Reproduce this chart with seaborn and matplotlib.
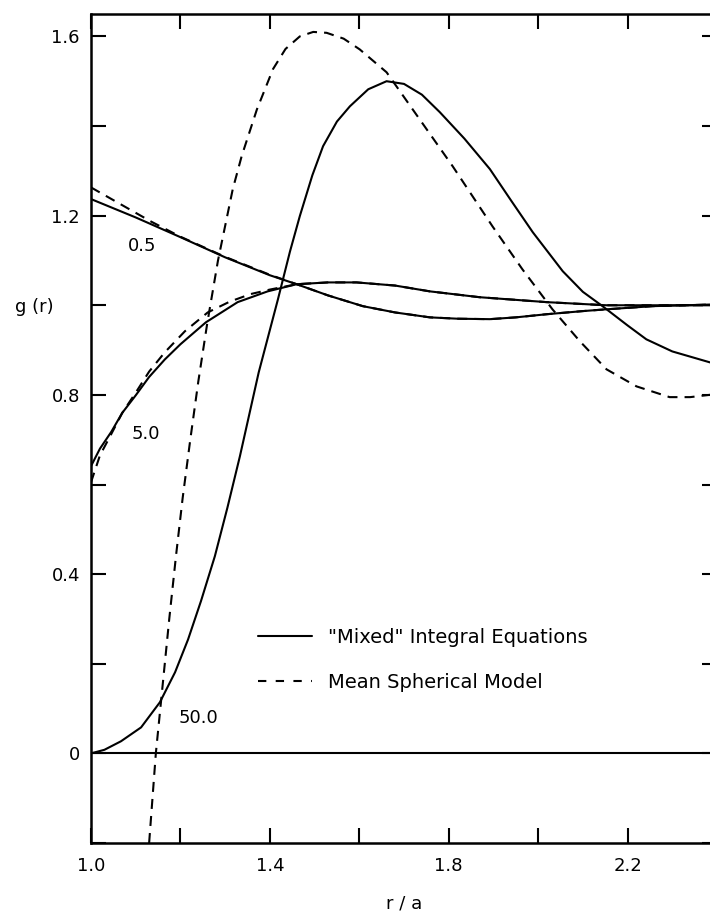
import numpy as np
import pandas as pd
import matplotlib
matplotlib.use("Agg")
import matplotlib.pyplot as plt
from matplotlib.lines import Line2D
from matplotlib.ticker import FixedLocator, FuncFormatter
import seaborn as sns

# values: r/a and g(r) for each curve
r_mixed_05 = [1.00, 1.10, 1.20, 1.30, 1.40, 1.46, 1.53, 1.608, 1.68, 1.758, 1.82, 1.892,
              1.95, 2.019, 2.10, 2.153, 2.256, 2.40]
g_mixed_05 = [1.237, 1.196, 1.152, 1.107, 1.067, 1.047, 1.022, 0.998, 0.984, 0.973, 0.970, 0.969,
              0.973, 0.980, 0.987, 0.991, 0.998, 1.002]

r_mixed_5 = [1.00, 1.02, 1.045, 1.07, 1.10, 1.13, 1.165, 1.20, 1.257, 1.328, 1.395, 1.46,
             1.53, 1.594, 1.68, 1.758, 1.869, 2.019, 2.153, 2.40]
g_mixed_5 = [0.641, 0.680, 0.717, 0.760, 0.799, 0.840, 0.879, 0.913, 0.962, 1.007, 1.031, 1.047,
             1.051, 1.051, 1.044, 1.031, 1.018, 1.007, 1.000, 1.000]

r_mixed_50 = [1.00, 1.03, 1.067, 1.112, 1.154, 1.188, 1.217, 1.246, 1.277, 1.305, 1.333, 1.375,
              1.418, 1.445, 1.467, 1.495, 1.519, 1.55, 1.579, 1.62, 1.661, 1.70, 1.74, 1.78,
              1.835, 1.892, 1.94, 1.988, 2.055, 2.10, 2.144, 2.20, 2.242, 2.30, 2.40]
g_mixed_50 = [0.000, 0.008, 0.027, 0.058, 0.114, 0.181, 0.254, 0.340, 0.440, 0.548, 0.663, 0.850,
              1.013, 1.120, 1.199, 1.290, 1.355, 1.410, 1.444, 1.482, 1.500, 1.494, 1.470, 1.431,
              1.372, 1.304, 1.233, 1.163, 1.076, 1.030, 0.998, 0.955, 0.924, 0.897, 0.868]

r_msm_05 = [1.00, 1.067, 1.134, 1.20, 1.30, 1.40, 1.46, 1.53, 1.608, 1.68, 1.758, 1.82, 1.892,
            1.95, 2.019, 2.10, 2.153, 2.256, 2.40]
g_msm_05 = [1.263, 1.225, 1.187, 1.153, 1.108, 1.068, 1.047, 1.022, 0.998, 0.984, 0.973, 0.970,
            0.969, 0.973, 0.980, 0.987, 0.991, 0.998, 1.002]

r_msm_5 = [1.00, 1.02, 1.045, 1.07, 1.10, 1.13, 1.165, 1.21, 1.261, 1.31, 1.357, 1.40, 1.46,
           1.53, 1.594, 1.68, 1.758, 1.869, 2.019, 2.153, 2.40]
g_msm_5 = [0.605, 0.665, 0.712, 0.760, 0.805, 0.852, 0.895, 0.942, 0.984, 1.008, 1.025, 1.035,
           1.047, 1.051, 1.051, 1.044, 1.031, 1.018, 1.007, 1.000, 1.000]

r_msm_50 = [1.130, 1.145, 1.160, 1.175, 1.190, 1.205, 1.222, 1.240, 1.260, 1.284, 1.317, 1.337,
            1.371, 1.407, 1.435, 1.467, 1.497, 1.527, 1.565, 1.601, 1.661, 1.735, 1.809, 1.898,
            1.965, 2.032, 2.093, 2.153, 2.22, 2.294, 2.34, 2.40]
g_msm_50 = [-0.200, 0.000, 0.150, 0.300, 0.440, 0.570, 0.700, 0.830, 0.960, 1.100, 1.259, 1.333,
            1.437, 1.527, 1.572, 1.600, 1.610, 1.608, 1.595, 1.571, 1.520, 1.415, 1.310, 1.176,
            1.080, 0.991, 0.920, 0.857, 0.819, 0.795, 0.795, 0.802]

x_major = [1.0, 1.4, 1.8, 2.2]
x_minor = [1.2, 1.6, 2.0, 2.4]
y_major = [0.0, 0.4, 0.8, 1.2, 1.6]
y_minor = [-0.2, 0.2, 0.6, 1.0, 1.4]

curve_labels = ["0.5", "5.0", "50.0"]
label_r = [1.114, 1.123, 1.240]
label_g = [1.132, 0.712, 0.080]

legend_labels = ['"Mixed" Integral Equations', 'Mean Spherical Model']

sns.set_style("ticks")
plt.rcParams['font.family'] = ['DejaVu Sans']
plt.rcParams['text.color'] = 'black'
plt.rcParams['axes.labelcolor'] = 'black'
plt.rcParams['xtick.color'] = 'black'
plt.rcParams['ytick.color'] = 'black'

fig = plt.figure(figsize=(7.1, 9.16), dpi=100)
ax = fig.add_axes([91 / 710, 73 / 916, 626 / 710, 829 / 916])

dash = (0, (4.8, 3.4))
lw = 1.5
solid = [(r_mixed_05, g_mixed_05), (r_mixed_5, g_mixed_5), (r_mixed_50, g_mixed_50)]
dashed = [(r_msm_05, g_msm_05), (r_msm_5, g_msm_5), (r_msm_50, g_msm_50)]

for r, g in dashed:
    sns.lineplot(x=r, y=g, ax=ax, color='black', lw=lw, linestyle=dash, legend=False)
for r, g in solid:
    sns.lineplot(x=r, y=g, ax=ax, color='black', lw=lw, legend=False)

ax.axhline(0, color='black', lw=1.5)

ax.set_xlim(1.0, 2.4)
ax.set_ylim(-0.2, 1.65)

ax.xaxis.set_major_locator(FixedLocator(x_major))
ax.xaxis.set_minor_locator(FixedLocator(x_minor))
ax.yaxis.set_major_locator(FixedLocator(y_major))
ax.yaxis.set_minor_locator(FixedLocator(y_minor))
ax.xaxis.set_major_formatter(FuncFormatter(lambda v, p: f"{v:.1f}"))
ax.yaxis.set_major_formatter(FuncFormatter(
    lambda v, p: "0" if abs(v) < 1e-9 else f"{v:.1f}"))

ax.tick_params(which='both', direction='in', length=11, width=1.5,
               top=True, right=True, colors='black')
ax.tick_params(axis='x', which='major', labelsize=13, pad=10)
ax.tick_params(axis='y', which='major', labelsize=13, pad=8)

for s in ax.spines.values():
    s.set_linewidth(1.8)
    s.set_color('black')

ax.set_xlabel('r / a', fontsize=13)
ax.xaxis.set_label_coords(0.5, -0.062)
ax.xaxis.label.set_va('top')
ax.set_ylabel('g (r)', fontsize=13, rotation=0, ha='center', va='center')
ax.yaxis.set_label_coords(-0.091, 0.6466)

for txt, x, y in zip(curve_labels, label_r, label_g):
    ax.text(x, y, txt, fontsize=13, ha='center', va='center')

handles = [Line2D([], [], color='black', lw=lw),
           Line2D([], [], color='black', lw=lw, linestyle=(0, (4.0, 4.5)))]
ax.legend(handles, legend_labels, loc='upper left',
          bbox_to_anchor=(167 / 626, 0.259), frameon=False, fontsize=14,
          handlelength=2.8, handletextpad=0.8, labelspacing=1.3,
          borderpad=0, borderaxespad=0)

fig.savefig('out.png', dpi=100)
